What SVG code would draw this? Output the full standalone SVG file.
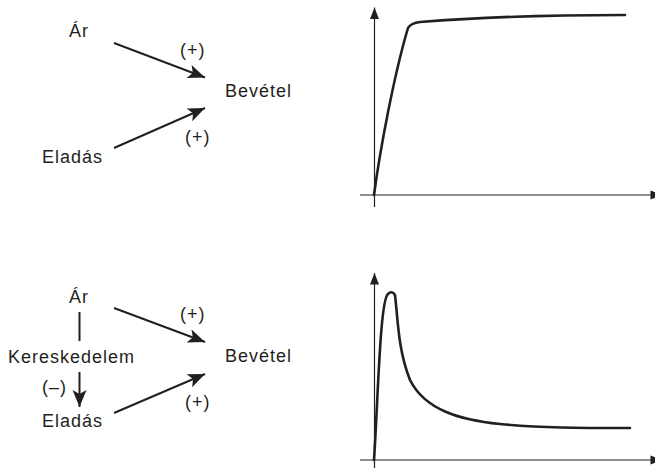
<svg xmlns="http://www.w3.org/2000/svg" width="655" height="469" viewBox="0 0 655 469">
<defs>
<style>
text{font-family:"Liberation Sans",Arial,sans-serif;font-size:18px;fill:#231f20;letter-spacing:1px}
.conn{stroke:#231f20;stroke-width:2;fill:none}
.axis{stroke:#231f20;stroke-width:1.2;fill:none}
.curve{stroke:#231f20;stroke-width:2.6;fill:none;stroke-linejoin:round;stroke-linecap:round}
</style>
<marker id="arr" markerUnits="userSpaceOnUse" markerWidth="20" markerHeight="16" viewBox="-18 -8 20 16" refX="0" refY="0" orient="auto">
<path d="M0,0 L-17,-7 L-13,0 L-17,7 Z" fill="#231f20"/>
</marker>
<marker id="axarr" markerUnits="userSpaceOnUse" markerWidth="14" markerHeight="12" viewBox="-12 -6 14 12" refX="0" refY="0" orient="auto">
<path d="M0,0 L-11.5,-4.5 L-11.5,4.5 Z" fill="#231f20"/>
</marker>
</defs>
<rect width="655" height="469" fill="#ffffff"/>

<!-- Top diagram -->
<g id="ar1"><text x="69" y="37">Ár</text></g>
<g id="eladas1"><text x="42" y="163">Eladás</text></g>
<g id="bevetel1"><text x="225" y="97">Bevétel</text></g>
<g id="conn1">
<line class="conn" x1="114" y1="43" x2="205" y2="77.5" marker-end="url(#arr)"/>
<line class="conn" x1="114" y1="148" x2="205" y2="108" marker-end="url(#arr)"/>
<text x="180" y="55.5">(+)</text>
<text x="185" y="143">(+)</text>
</g>

<!-- Bottom diagram -->
<g id="ar2"><text x="69" y="303">Ár</text></g>
<g id="keres"><text x="8" y="363">Kereskedelem</text></g>
<g id="eladas2"><text x="42" y="427">Eladás</text></g>
<g id="bevetel2"><text x="225" y="362">Bevétel</text></g>
<g id="conn2">
<line class="conn" x1="79.5" y1="312" x2="79.5" y2="341"/>
<line class="conn" x1="79.5" y1="372" x2="79.5" y2="407" marker-end="url(#arr)"/>
<line class="conn" x1="114" y1="308" x2="205" y2="342" marker-end="url(#arr)"/>
<line class="conn" x1="114" y1="413" x2="205" y2="374" marker-end="url(#arr)"/>
<text x="180" y="319.5">(+)</text>
<text x="42" y="392.5">(–)</text>
<text x="185" y="408">(+)</text>
</g>

<!-- Top graph -->
<g id="graph1">
<line class="axis" x1="374.5" y1="207" x2="374.5" y2="7.5" marker-end="url(#axarr)"/>
<line class="axis" x1="360" y1="195" x2="662" y2="195" marker-end="url(#axarr)"/>
<path class="curve" d="M374,195 C380,150 394,75 408,28 Q411,23 420,22 C470,18 550,15 625,15"/>
</g>

<!-- Bottom graph -->
<g id="graph2">
<line class="axis" x1="374.5" y1="468" x2="374.5" y2="273" marker-end="url(#axarr)"/>
<line class="axis" x1="360" y1="460" x2="662" y2="460" marker-end="url(#axarr)"/>
<path class="curve" d="M374,460 C378,400 380,300 388,294 Q392,290 395,295 C398,320 398,350 410,380 C425,410 460,420 500,424 C540,428 580,428 630,428"/>
</g>
</svg>
